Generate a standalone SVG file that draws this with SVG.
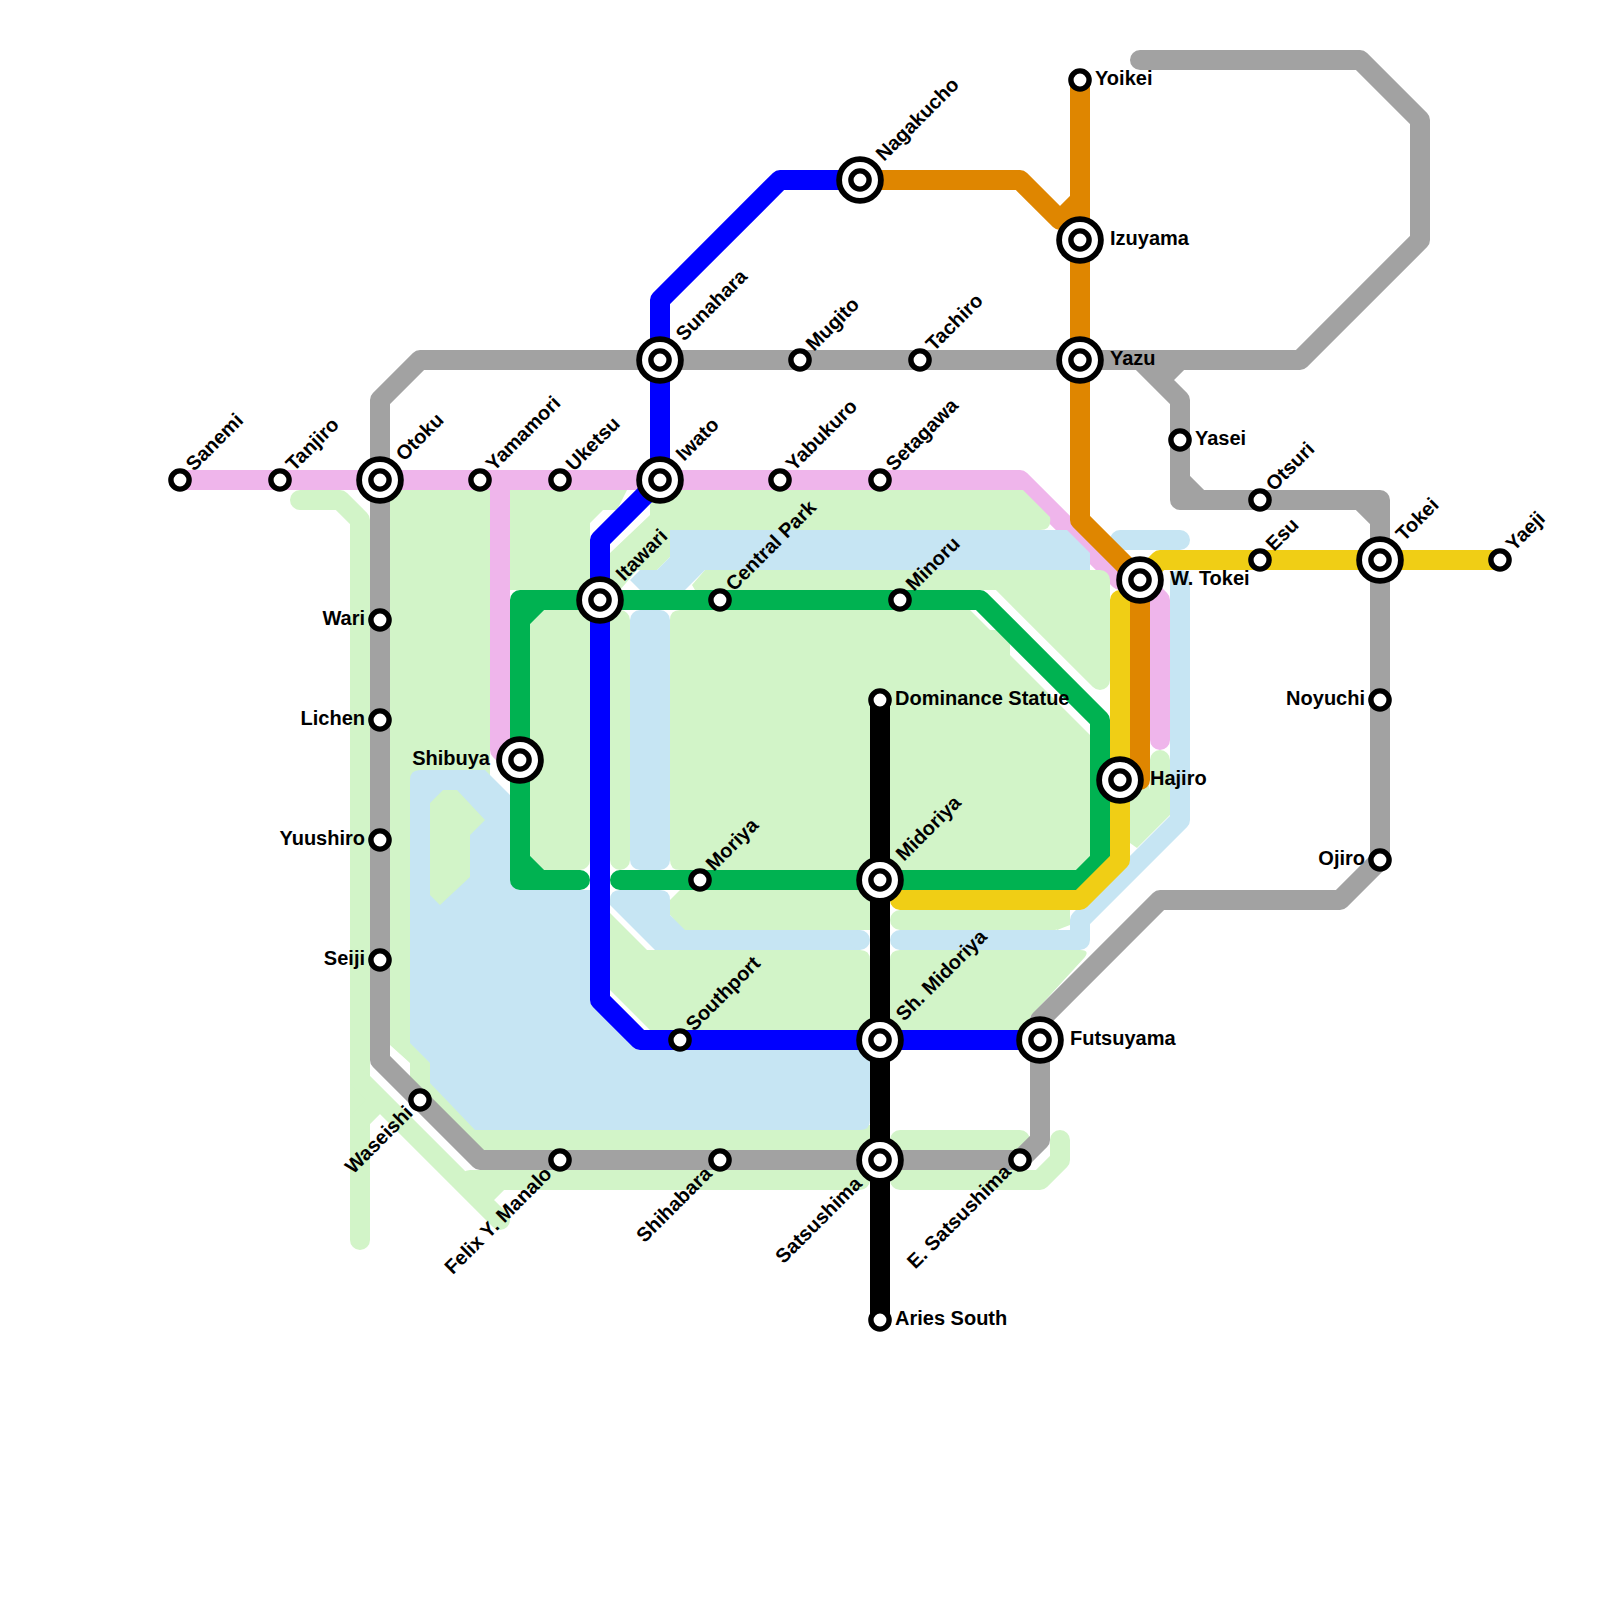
<svg xmlns="http://www.w3.org/2000/svg" width="1600" height="1600" viewBox="0 0 1600 1600">
<style>
.ln{fill:none;stroke-width:20;stroke-linecap:round;stroke-linejoin:round}
.lg{stroke:#d2f4c8}.lb{stroke:#c6e5f3}.pk{stroke:#efb5eb}.gy{stroke:#a2a2a2}.gn{stroke:#00b251}.yl{stroke:#f0ce15}.or{stroke:#df8600}.bl{stroke:#00f}.bk{stroke:#000}
.fg{fill:#d2f4c8}
.fb{fill:#c6e5f3}
.rg{fill:#d2f4c8;stroke:#d2f4c8;stroke-width:20;stroke-linejoin:round}
.rb{fill:#c6e5f3;stroke:#c6e5f3;stroke-width:20;stroke-linejoin:round}
.o{fill:#fff;stroke:#000;stroke-width:5.8}
.i{fill:#fff;stroke:#000;stroke-width:5.4}
text{font-family:"Liberation Sans",Arial,sans-serif;font-weight:700;font-size:20px;fill:#000}
.e{text-anchor:end}
</style>
<defs>
<g id="big"><circle class="o" r="20.9"/><circle class="i" r="9.1"/></g>
<circle id="sm" class="i" r="9.1"/>
</defs>
<g id="connectors">
<path class="ln pk" d="M180,480H1020L1120,580H1140L1160,600V740M500,480V750L520,770"/>
<g id="park">
<path class="ln lg" d="M300,500H340L360,520V1240"/>
<path class="fg" d="M370,490H490V800H420V1040L440,1060V1080L480,1125H870V1150H480L410,1080V1063L390,1045H370Z"/>
<path class="ln lg" d="M360,1080L500,1220M360,1120L380,1100M470,1180H860M500,1180L480,1200M860,1140H480"/>
<path class="ln lg" d="M900,1140H1020M900,1180H1040L1060,1160V1140"/>
<path class="fg" d="M510,490H627L617,510H603L590,523V590H510Z"/>
<path class="fg" d="M650,490H1023L1050,517Q1052,530 1040,530H670V557L657,570H637L620,590H610V553L650,515Z"/>
<path class="rg" d="M540,620H580V860H540ZM620,620H620V860Z"/>
<path class="fg" d="M680,610H970L990,630H1010V655L1090,735V857L1077,870H890V860H870V870H680Q670,870 670,860V620Q670,610 680,610Z"/>
<path class="fg" d="M705,570H1010V590H695L692,585Z"/>
<path class="rg" d="M1010,580H1100V680L1000,580Z"/>
<path class="fg" d="M680,890H860Q870,890 870,900V930H683L670,915V900Z"/>
<path class="ln lg" d="M900,920H1055"/>
<path class="fg" d="M1055,910H1070V925L1057,930Z"/>
<path class="fg" d="M610,913L647,950H860Q870,950 870,960V1030H650L610,990Z"/>
<path class="fg" d="M900,950H1080Q1090,950 1085,957L1030,1017V1030H890V960Q890,950 900,950Z"/>
<path class="ln lg" d="M1160,760V810L1140,830V790"/>
<path class="fg" d="M1130,790H1170V815L1137,848L1130,843Z"/>
</g>
<g id="river">
<path class="fb" d="M420,770H485L515,800V885H520V890H600V1000L640,1040H870V1120Q870,1130 860,1130H475L430,1083V1063L410,1043V780Q410,770 420,770Z"/>
<path class="fg" d="M430,803L443,790H457L485,820L470,835V877L440,905L430,895Z"/>
<rect class="rb" x="640" y="620" width="20" height="240"/>
<path class="fb" d="M670,530H1067L1090,553V570H705L685,590H640L630,580L640,570H657L670,557Z"/>
<path class="fb" d="M620,890H660Q670,890 670,900V915L685,930H860V950H655L610,905V900Q610,890 620,890Z"/>
<path class="ln lb" d="M860,940V940M1120,540H1180M1180,580V820L1080,920M900,940H1080V920"/>
</g>
<path class="ln gy" d="M1140,60H1360L1420,120V240L1300,360H420L380,400V1060L480,1160H1020L1040,1140V1020L1160,900H1340L1380,860V500H1180V400L1140,360M1160,380L1180,360M1180,480L1200,500M1360,500L1380,520"/>
<path class="ln gn" d="M580,880H520V600H980L1100,720V860L1080,880H620M520,620L540,600M520,860L540,880"/>
<path class="ln yl" d="M1140,580L1160,560H1500M1120,600V860L1080,900H900"/>
<path class="ln or" d="M860,180H1020L1060,220L1080,200M1080,80V520L1140,580V780H1120"/>
<path class="ln bl" d="M860,180H780L660,300V480L600,540V1000L640,1040H1040"/>
<path class="ln bk" d="M880,700V1320"/>
</g>
<g id="n-sanemi"><use href="#sm" x="180" y="480"/><text transform="translate(194,472) rotate(-45)">Sanemi</text></g>
<g id="n-tanjiro"><use href="#sm" x="280" y="480"/><text transform="translate(294,472) rotate(-45)">Tanjiro</text></g>
<g id="n-otoku"><use href="#big" x="380" y="480"/><text transform="translate(404,462) rotate(-45)">Otoku</text></g>
<g id="n-yamamori"><use href="#sm" x="480" y="480"/><text transform="translate(494,472) rotate(-45)">Yamamori</text></g>
<g id="n-uketsu"><use href="#sm" x="560" y="480"/><text transform="translate(574,472) rotate(-45)">Uketsu</text></g>
<g id="n-iwato"><use href="#big" x="660" y="480"/><text transform="translate(684,462) rotate(-45)">Iwato</text></g>
<g id="n-yabukuro"><use href="#sm" x="780" y="480"/><text transform="translate(794,472) rotate(-45)">Yabukuro</text></g>
<g id="n-setagawa"><use href="#sm" x="880" y="480"/><text transform="translate(894,472) rotate(-45)">Setagawa</text></g>
<g id="n-wari"><use href="#sm" x="380" y="620"/><text class="e" x="365" y="625">Wari</text></g>
<g id="n-lichen"><use href="#sm" x="380" y="720"/><text class="e" x="365" y="725">Lichen</text></g>
<g id="n-yuushiro"><use href="#sm" x="380" y="840"/><text class="e" x="365" y="845">Yuushiro</text></g>
<g id="n-seiji"><use href="#sm" x="380" y="960"/><text class="e" x="365" y="965">Seiji</text></g>
<g id="n-waseishi"><use href="#sm" x="420" y="1100"/><text class="e" transform="translate(414,1114) rotate(-45)">Waseishi</text></g>
<g id="n-felix"><use href="#sm" x="560" y="1160"/><text class="e" transform="translate(553,1175) rotate(-45)">Felix Y. Manalo</text></g>
<g id="n-shihabara"><use href="#sm" x="720" y="1160"/><text class="e" transform="translate(713,1175) rotate(-45)">Shihabara</text></g>
<g id="n-satsushima"><use href="#big" x="880" y="1160"/><text class="e" transform="translate(863,1185) rotate(-45)">Satsushima</text></g>
<g id="n-esatsushima"><use href="#sm" x="1020" y="1160"/><text class="e" transform="translate(1012,1173) rotate(-45)">E. Satsushima</text></g>
<g id="n-futsuyama"><use href="#big" x="1040" y="1040"/><text x="1070" y="1045">Futsuyama</text></g>
<g id="n-shmidoriya"><use href="#big" x="880" y="1040"/><text transform="translate(904,1022) rotate(-45)">Sh. Midoriya</text></g>
<g id="n-southport"><use href="#sm" x="680" y="1040"/><text transform="translate(694,1032) rotate(-45)">Southport</text></g>
<g id="n-midoriya"><use href="#big" x="880" y="880"/><text transform="translate(904,862) rotate(-45)">Midoriya</text></g>
<g id="n-moriya"><use href="#sm" x="700" y="880"/><text transform="translate(714,872) rotate(-45)">Moriya</text></g>
<g id="n-shibuya"><use href="#big" x="520" y="760"/><text class="e" x="490" y="765">Shibuya</text></g>
<g id="n-itawari"><use href="#big" x="600" y="600"/><text transform="translate(624,582) rotate(-45)">Itawari</text></g>
<g id="n-centralpark"><use href="#sm" x="720" y="600"/><text transform="translate(734,592) rotate(-45)">Central Park</text></g>
<g id="n-minoru"><use href="#sm" x="900" y="600"/><text transform="translate(914,592) rotate(-45)">Minoru</text></g>
<g id="n-dominance"><use href="#sm" x="880" y="700"/><text x="895" y="705">Dominance Statue</text></g>
<g id="n-aries"><use href="#sm" x="880" y="1320"/><text x="895" y="1325">Aries South</text></g>
<g id="n-sunahara"><use href="#big" x="660" y="360"/><text transform="translate(684,342) rotate(-45)">Sunahara</text></g>
<g id="n-mugito"><use href="#sm" x="800" y="360"/><text transform="translate(814,352) rotate(-45)">Mugito</text></g>
<g id="n-tachiro"><use href="#sm" x="920" y="360"/><text transform="translate(934,352) rotate(-45)">Tachiro</text></g>
<g id="n-yazu"><use href="#big" x="1080" y="360"/><text x="1110" y="365">Yazu</text></g>
<g id="n-izuyama"><use href="#big" x="1080" y="240"/><text x="1110" y="245">Izuyama</text></g>
<g id="n-yoikei"><use href="#sm" x="1080" y="80"/><text x="1095" y="85">Yoikei</text></g>
<g id="n-nagakucho"><use href="#big" x="860" y="180"/><text transform="translate(884,162) rotate(-45)">Nagakucho</text></g>
<g id="n-wtokei"><use href="#big" x="1140" y="580"/><text x="1170" y="585">W. Tokei</text></g>
<g id="n-hajiro"><use href="#big" x="1120" y="780"/><text x="1150" y="785">Hajiro</text></g>
<g id="n-yasei"><use href="#sm" x="1180" y="440"/><text x="1195" y="445">Yasei</text></g>
<g id="n-otsuri"><use href="#sm" x="1260" y="500"/><text transform="translate(1274,492) rotate(-45)">Otsuri</text></g>
<g id="n-esu"><use href="#sm" x="1260" y="560"/><text transform="translate(1274,552) rotate(-45)">Esu</text></g>
<g id="n-tokei"><use href="#big" x="1380" y="560"/><text transform="translate(1404,542) rotate(-45)">Tokei</text></g>
<g id="n-yaeji"><use href="#sm" x="1500" y="560"/><text transform="translate(1514,552) rotate(-45)">Yaeji</text></g>
<g id="n-noyuchi"><use href="#sm" x="1380" y="700"/><text class="e" x="1365" y="705">Noyuchi</text></g>
<g id="n-ojiro"><use href="#sm" x="1380" y="860"/><text class="e" x="1365" y="865">Ojiro</text></g>
</svg>
